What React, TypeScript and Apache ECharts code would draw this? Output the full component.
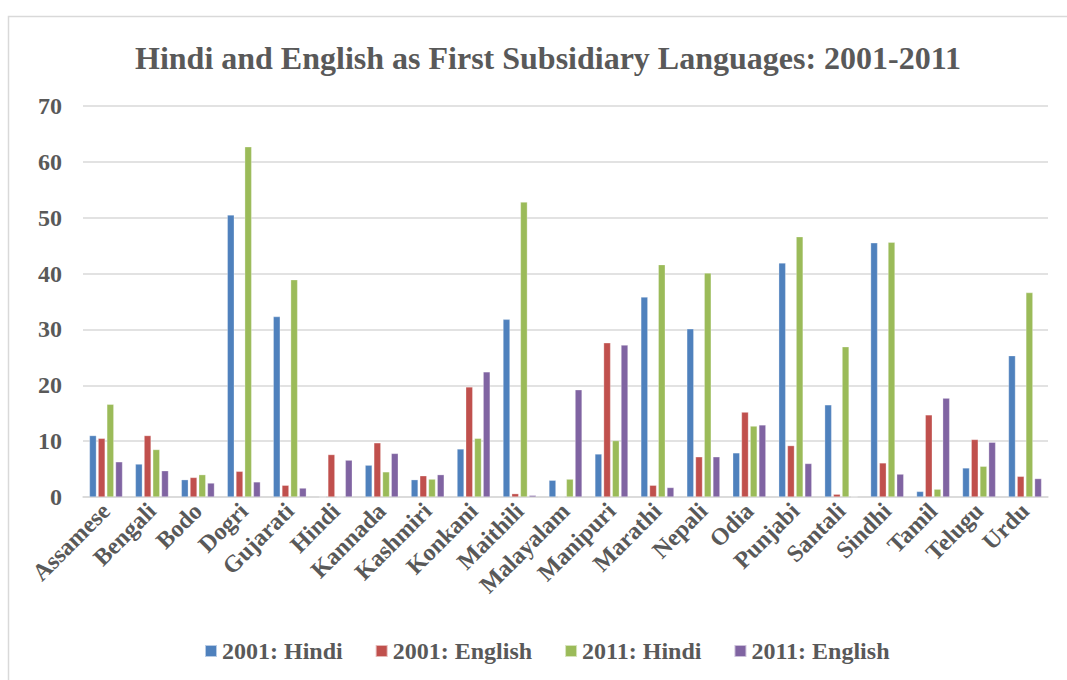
import React, { useEffect, useRef } from "react";
import * as echarts from "echarts";

const categories = ["Assamese","Bengali","Bodo","Dogri","Gujarati","Hindi","Kannada","Kashmiri","Konkani","Maithili","Malayalam","Manipuri","Marathi","Nepali","Odia","Punjabi","Santali","Sindhi","Tamil","Telugu","Urdu"];
const hindi2001 = [11.0, 5.9, 3.1, 50.5, 32.3, 0, 5.7, 3.1, 8.6, 31.8, 3.0, 7.7, 35.8, 30.1, 7.9, 41.9, 16.5, 45.5, 1.0, 5.2, 25.3];
const english2001 = [10.5, 11.0, 3.5, 4.6, 2.1, 7.6, 9.7, 3.8, 19.7, 0.6, 0, 27.6, 2.1, 7.2, 15.2, 9.2, 0.5, 6.1, 14.7, 10.3, 3.7];
const hindi2011 = [16.6, 8.5, 4.0, 62.7, 38.9, 0, 4.5, 3.2, 10.5, 52.8, 3.2, 10.1, 41.6, 40.1, 12.7, 46.6, 26.9, 45.6, 1.4, 5.5, 36.6];
const english2011 = [6.3, 4.7, 2.5, 2.7, 1.6, 6.6, 7.8, 4.0, 22.4, 0.3, 19.2, 27.2, 1.7, 7.2, 12.9, 6.0, 0.05, 4.1, 17.7, 9.8, 3.3];
const seriesNames = ["2001: Hindi", "2001: English", "2011: Hindi", "2011: English"];
const colors = ["#4F81BD", "#C0504D", "#9BBB59", "#8064A2"];

const FONT = "'Liberation Serif', 'Times New Roman', serif";
const TXT = "#595959";

export default function App() {
  const ref = useRef<HTMLDivElement>(null);
  useEffect(() => {
    document.body.style.margin = "0";
    const chart = echarts.init(ref.current!, null, { renderer: "svg" });
    const data = [hindi2001, english2001, hindi2011, english2011];
    chart.setOption({
      animation: false,
      backgroundColor: "#fff",
      color: colors,
      textStyle: { fontFamily: FONT },
      graphic: [
        {
          type: "rect",
          shape: { x: 8.5, y: 16.5, width: 1100, height: 700 },
          style: { fill: "none", stroke: "#D9D9D9", lineWidth: 1.5 },
          silent: true,
          z: -1,
        },
      ],
      title: {
        text: "Hindi and English as First Subsidiary Languages: 2001-2011",
        left: 130,
        top: 37,
        textStyle: { fontFamily: FONT, fontWeight: "bold", fontSize: 32, color: TXT },
      },
      legend: {
        data: seriesNames,
        bottom: 12,
        left: 199,
        itemWidth: 12,
        itemHeight: 12,
        itemGap: 32,
        icon: "rect",
        textStyle: { fontFamily: FONT, fontWeight: "bold", fontSize: 24, color: TXT },
      },
      grid: { left: 83, right: 19, top: 106, bottom: 183 },
      xAxis: {
        type: "category",
        data: categories,
        axisLine: { show: true, lineStyle: { color: "#D9D9D9", width: 1.5 } },
        axisTick: { show: false },
        axisLabel: {
          rotate: 45,
          interval: 0,
          margin: 10,
          fontFamily: FONT,
          fontWeight: "bold",
          fontSize: 24,
          color: TXT,
        },
      },
      yAxis: {
        type: "value",
        min: 0,
        max: 70,
        interval: 10,
        axisLine: { show: false },
        axisTick: { show: false },
        splitLine: { lineStyle: { color: "#D9D9D9", width: 1.5 } },
        axisLabel: {
          margin: 21,
          fontFamily: FONT,
          fontWeight: "bold",
          fontSize: 24,
          color: TXT,
        },
      },
      series: seriesNames.map((name, i) => ({
        name,
        type: "bar",
        data: data[i],
        barGap: "25%",
        barCategoryGap: "28%",
        itemStyle: { color: colors[i], borderColor: "rgba(255,255,255,0.6)", borderWidth: 0.5 },
      })),
    });
    return () => chart.dispose();
  }, []);
  return <div ref={ref} style={{ width: 1067, height: 680 }} />;
}
